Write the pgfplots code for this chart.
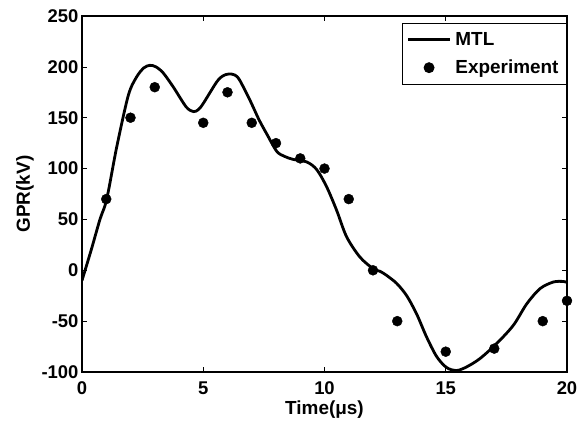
\documentclass[border=0pt]{standalone}
\usepackage{fontspec}
\setmainfont{Liberation Sans}
\usepackage{pgfplots}
\pgfplotsset{compat=1.18}
\pgfplotsset{
  mtllegend/.style={legend image code/.code={\draw[##1, line width=2.8bp] (0bp,0bp) -- (42bp,0bp);}},
  explegend/.style={legend image code/.code={\draw[mark repeat=2,mark phase=2,##1] plot coordinates {(0bp,0bp) (21bp,0bp) (42bp,0bp)};}},
}
\begin{document}
\begin{tikzpicture}
\path[use as bounding box] (-82bp,-55bp) rectangle (502bp,372bp);
\begin{axis}[
  at={(0,0)}, anchor=south west,
  scale only axis, width=485bp, height=356bp,
  xmin=0, xmax=20, ymin=-100, ymax=250,
  xtick={0,5,10,15,20},
  ytick={-100,-50,0,50,100,150,200,250},
  tick align=inside, major tick length=5bp,
  axis line style={line width=1.1pt},
  tick style={line width=0.6pt, black},
  /pgf/number format/assume math mode=true,
  tick label style={font=\bfseries\fontsize{18.5}{21}\selectfont},
  xticklabel style={yshift=-6bp},
  label style={font=\bfseries\fontsize{19}{22}\selectfont},
  xlabel={Time(μs)}, ylabel={GPR(kV)},
  xlabel style={at={(axis description cs:0.5,-0.1067)}, anchor=center},
  ylabel style={at={(axis description cs:-0.1175,0.5)}, anchor=center},
  legend style={at={(rel axis cs:1,0.98)}, anchor=north east, draw=black, line width=0.9pt,
    font=\bfseries\fontsize{19}{22}\selectfont, inner xsep=4bp, inner ysep=5bp, row sep=5bp,
    nodes={inner sep=4bp}},
  legend cell align=left,
]
\addplot[black, line width=2.8bp, smooth, tension=0.5, mtllegend]
coordinates {
(0,-10) (0.38,20) (0.74,50) (1.02,70) (1.43,121) (1.91,172) (2.25,190) (2.55,199)
(2.8,201.5) (3.05,200) (3.35,194) (3.77,180) (4.3,160.5) (4.6,156) (4.8,158) (5.0,164)
(5.55,185) (5.8,191) (6.05,193) (6.3,192) (6.5,187) (6.93,167) (7.3,148) (7.62,134)
(8.03,117) (8.35,112) (8.71,109) (9.27,106.5) (9.68,99) (10.09,82) (10.5,59) (10.91,33)
(11.46,13) (12.01,1.5) (12.29,-1) (12.56,-5) (12.98,-13) (13.39,-25) (13.8,-43)
(14.21,-65.6) (14.63,-85) (15.04,-95.7) (15.45,-98.5) (15.86,-95) (16.41,-86.8)
(17.1,-72) (17.79,-54) (18.34,-33) (18.89,-18) (19.44,-11.5) (19.85,-11) (20,-12)
};
\addlegendentry{MTL}
\addplot[only marks, mark=*, mark size=5bp, black, explegend]
coordinates {
(1,70) (2,150) (3,180) (5,145) (6,175) (7,145) (8,125) (9,110) (10,100) (11,70)
(12,0) (13,-50) (15,-80) (17,-77) (19,-50) (20,-30)
};
\addlegendentry{Experiment}
\end{axis}
\end{tikzpicture}
\end{document}
